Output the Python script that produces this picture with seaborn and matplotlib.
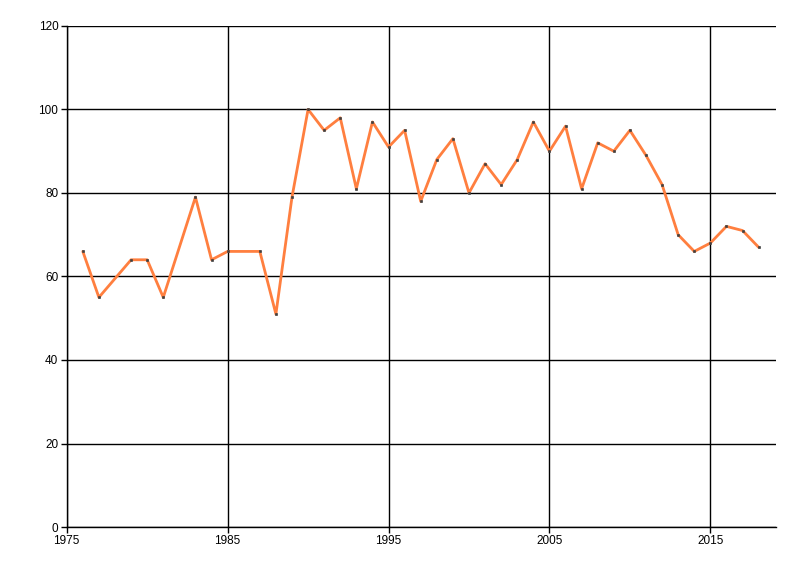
import matplotlib
matplotlib.use("Agg")
import matplotlib.pyplot as plt
import seaborn as sns

years = [1976, 1977, 1979, 1980, 1981, 1983, 1984, 1985, 1987, 1988,
         1989, 1990, 1991, 1992, 1993, 1994, 1995, 1996, 1997, 1998,
         1999, 2000, 2001, 2002, 2003, 2004, 2005, 2006, 2007, 2008,
         2009, 2010, 2011, 2012, 2013, 2014, 2015, 2016, 2017, 2018]
values = [66, 55, 64, 64, 55, 79, 64, 66, 66, 51,
          79, 100, 95, 98, 81, 97, 91, 95, 78, 88,
          93, 80, 87, 82, 88, 97, 90, 96, 81, 92,
          90, 95, 89, 82, 70, 66, 68, 72, 71, 67]
x_ticks = [1975, 1985, 1995, 2005, 2015]
y_ticks = [0, 20, 40, 60, 80, 100, 120]

sns.set_style("white")
plt.rcParams['font.family'] = ['Liberation Sans', 'DejaVu Sans']

fig = plt.figure(figsize=(8, 5.76), dpi=100)
ax = fig.add_axes([0.0834, 0.085, 0.887, 0.870])

sns.lineplot(x=years, y=values, ax=ax, color="#FF7F3F", linewidth=2,
             marker="s", markersize=1.4, markerfacecolor="#404040",
             markeredgecolor="#404040", markeredgewidth=0.5, zorder=3)

ax.set_xlim(1975, 2019.1)
ax.set_ylim(0, 120)
ax.set_xticks(x_ticks)
ax.set_yticks(y_ticks)
ax.grid(True, color="black", linewidth=1)
ax.set_axisbelow(True)

for side in ["top", "right"]:
    ax.spines[side].set_visible(False)
for side in ["left", "bottom"]:
    ax.spines[side].set_color("black")
    ax.spines[side].set_linewidth(1)

ax.tick_params(axis="both", which="major", length=4, width=1, color="black",
               labelsize=8.5, labelcolor="black", direction="out",
               bottom=True, left=True, pad=2)

fig.savefig("out.png", dpi=100)
